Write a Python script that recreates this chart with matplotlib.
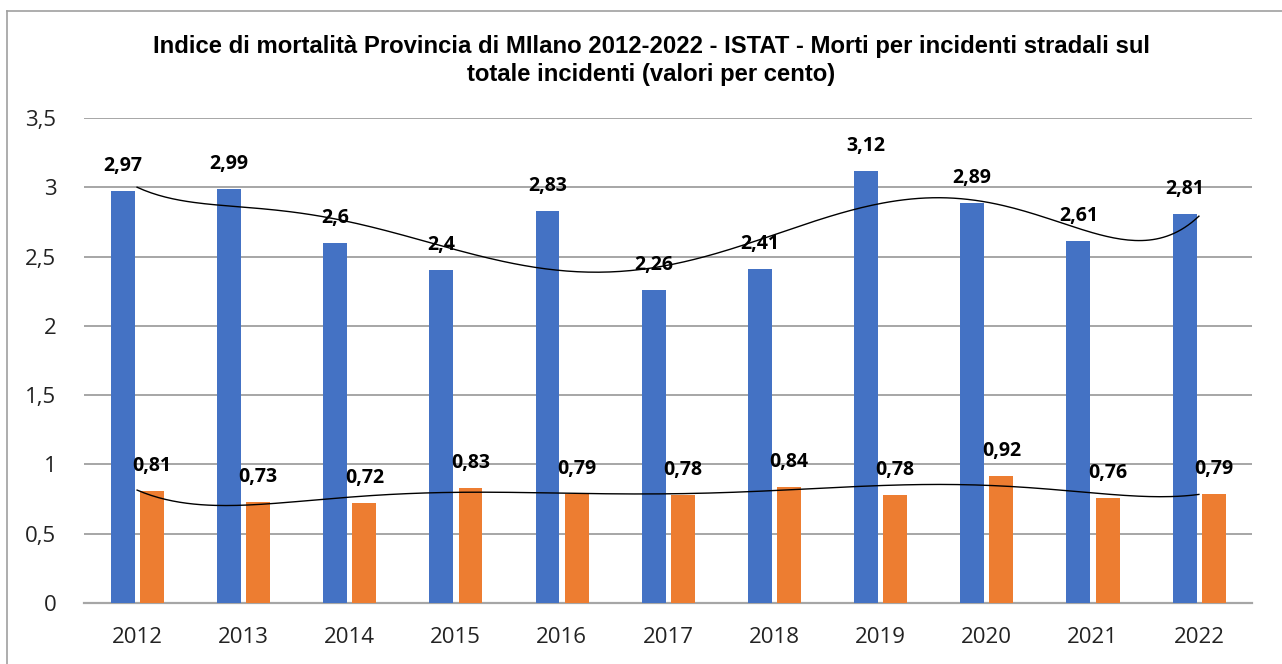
import numpy as np
import matplotlib
matplotlib.use("Agg")
import matplotlib.pyplot as plt
from matplotlib.lines import Line2D

years = ["2012", "2013", "2014", "2015", "2016", "2017", "2018", "2019", "2020", "2021", "2022"]
mortalita_blu = [2.97, 2.99, 2.6, 2.4, 2.83, 2.26, 2.41, 3.12, 2.89, 2.61, 2.81]
mortalita_arancio = [0.81, 0.73, 0.72, 0.83, 0.79, 0.78, 0.84, 0.78, 0.92, 0.76, 0.79]

blu = "#4472C4"
arancio = "#ED7D31"

def fmt(v):
    return f"{v:g}".replace(".", ",")

fig = plt.figure(figsize=(12.82, 6.64), dpi=100)
ax = fig.add_axes([84 / 1282, 1 - 603 / 664, (1252 - 84) / 1282, (603 - 118) / 664])

x = np.arange(len(years))
w = 0.225
ax.bar(x - 0.135, mortalita_blu, w, color=blu, zorder=3)
ax.bar(x + 0.14, mortalita_arancio, w, color=arancio, zorder=3)

# etichette valori
for i, v in enumerate(mortalita_blu):
    ax.annotate(fmt(v), (x[i] - 0.135, v), xytext=(0, 18), textcoords="offset points",
                ha="center", va="center", fontsize=14, fontweight="bold",
                family="Open Sans", zorder=5)
for i, v in enumerate(mortalita_arancio):
    ax.annotate(fmt(v), (x[i] + 0.14, v), xytext=(0, 18), textcoords="offset points",
                ha="center", va="center", fontsize=14, fontweight="bold",
                family="Open Sans", zorder=5)

# linee di tendenza polinomiali (come in Excel)
xs = np.linspace(0, len(years) - 1, 300)
for serie in (mortalita_blu, mortalita_arancio):
    coef = np.polyfit(x, serie, 6)
    ax.plot(xs, np.polyval(coef, xs), color="black", lw=1.0, zorder=4)

ax.set_xlim(-0.5, len(years) - 0.5)
ax.set_ylim(0, 3.5)
ax.set_yticks(np.arange(0, 3.51, 0.5))
ax.set_yticklabels([fmt(t) for t in np.arange(0, 3.51, 0.5)])
ax.set_xticks(x)
ax.set_xticklabels(years)
ax.tick_params(axis="both", length=0, labelsize=16)
ax.tick_params(axis="x", pad=17)
ax.tick_params(axis="y", pad=20)
for lab in ax.get_xticklabels() + ax.get_yticklabels():
    lab.set_family("Open Sans")
    lab.set_color("#222222")

ax.grid(axis="y", color="#A6A6A6", lw=1.4, zorder=0)
for s in ["left", "right", "top"]:
    ax.spines[s].set_visible(False)
ax.spines["bottom"].set_color("#A6A6A6")
ax.spines["bottom"].set_linewidth(1.6)

fig.text(0.508, 1 - 47 / 664,
         "Indice di mortalità Provincia di MIlano 2012-2022 - ISTAT - Morti per incidenti stradali sul",
         ha="center", va="center", fontsize=17.2, fontweight="bold",
         family=["Liberation Sans Narrow", "Liberation Sans"])
fig.text(0.508, 1 - 74 / 664, "totale incidenti (valori per cento)",
         ha="center", va="center", fontsize=17.2, fontweight="bold",
         family=["Liberation Sans Narrow", "Liberation Sans"])

# cornice del grafico
fig.add_artist(Line2D([7 / 1282, 1], [1 - 11 / 664, 1 - 11 / 664], color="#A0A0A0", lw=1.2))
fig.add_artist(Line2D([7 / 1282, 7 / 1282], [0, 1 - 11 / 664], color="#A0A0A0", lw=1.2))

fig.savefig("out.png", dpi=100)
